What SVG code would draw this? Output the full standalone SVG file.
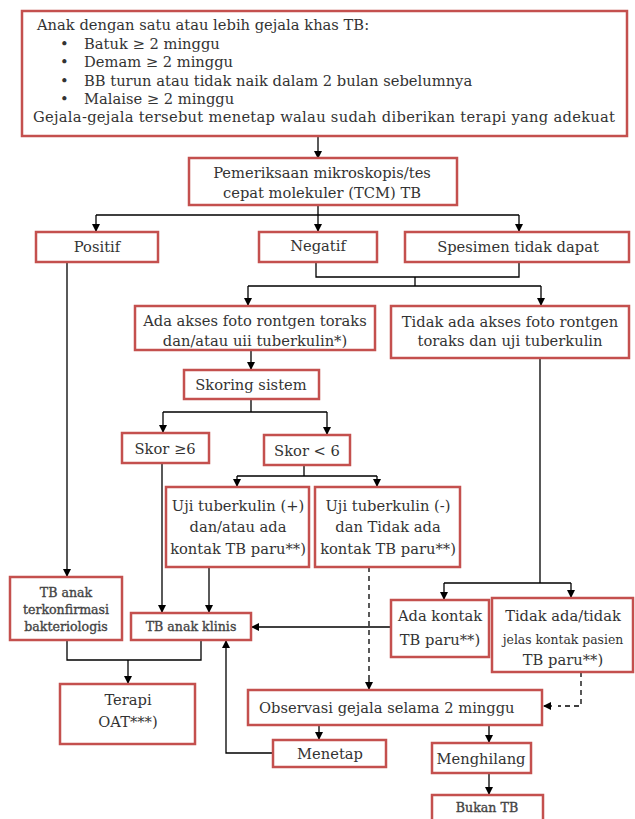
<svg xmlns="http://www.w3.org/2000/svg" width="635" height="819" viewBox="0 0 635 819">
<defs>
<marker id="ah" markerWidth="8" markerHeight="8" refX="7" refY="4" orient="auto" markerUnits="userSpaceOnUse">
<path d="M0,0 L8,4 L0,8 Z" fill="#000"/>
</marker>
<style>
.box{fill:#fff;stroke:#c4504e;stroke-width:2.5}
.t{font-family:"DejaVu Serif","Liberation Serif",serif;font-size:14.7px;fill:#333}
.c{text-anchor:middle}
.s{font-size:12.6px;fill:#444;stroke:#444;stroke-width:0.35}
.ln{fill:none;stroke:#000;stroke-width:1.3}
.ar{fill:none;stroke:#000;stroke-width:1.3;marker-end:url(#ah)}
.da{fill:none;stroke:#000;stroke-width:1.3;stroke-dasharray:5,4}
</style>
</defs>
<rect width="635" height="819" fill="#fff"/>

<g id="connectors">
<path class="ar" d="M318,136 V158"/>
<path class="ln" d="M318,205 V215 M96,215 H519"/>
<path class="ar" d="M96,215 V231"/>
<path class="ar" d="M318,215 V231"/>
<path class="ar" d="M519,215 V231"/>
<path class="ln" d="M316,262 V277 H519 V262 M415,277 V286 M248,286 H541"/>
<path class="ar" d="M248,286 V305"/>
<path class="ar" d="M541,286 V305"/>
<path class="ar" d="M251,350 V369"/>
<path class="ln" d="M251,399 V412 M163,412 H327"/>
<path class="ar" d="M163,412 V432"/>
<path class="ar" d="M327,412 V434"/>
<path class="ln" d="M304,465 V476 M237,476 H377"/>
<path class="ar" d="M237,476 V486"/>
<path class="ar" d="M377,476 V486"/>
<path class="ar" d="M67,262 V576"/>
<path class="ar" d="M162,463 V612"/>
<path class="ar" d="M209,567 V612"/>
<path class="da" d="M369,567 V682"/>
<path class="ar" d="M369,680 V689"/>
<path class="ln" d="M540,358 V583 M444,583 H571"/>
<path class="ar" d="M444,583 V599"/>
<path class="ar" d="M571,583 V597"/>
<path class="ar" d="M391,627 H252"/>
<path class="ln" d="M67,640 V660 H201 V640"/>
<path class="ar" d="M128,660 V683"/>
<path class="da" d="M581,672 V706 H558"/>
<path class="ar" d="M552,706 H544"/>
<path class="ar" d="M319,725 V739"/>
<path class="ar" d="M489,725 V742"/>
<path class="ar" d="M273,753 H226 V641"/>
<path class="ar" d="M489,773 V794"/>
</g>

<g id="n_top">
<rect class="box" x="22" y="11" width="605" height="125"/>
<text class="t" x="37" y="30">Anak dengan satu atau lebih gejala khas TB:</text>
<text class="t" x="60" y="49">•</text><text class="t" x="84" y="49">Batuk ≥ 2 minggu</text>
<text class="t" x="60" y="67">•</text><text class="t" x="84" y="67">Demam ≥ 2 minggu</text>
<text class="t" x="60" y="86">•</text><text class="t" x="84" y="86">BB turun atau tidak naik dalam 2 bulan sebelumnya</text>
<text class="t" x="60" y="104">•</text><text class="t" x="84" y="104">Malaise ≥ 2 minggu</text>
<text class="t" x="33" y="122" textLength="582" lengthAdjust="spacing">Gejala-gejala tersebut menetap walau sudah diberikan terapi yang adekuat</text>
</g>

<g id="n_pemeriksaan">
<rect class="box" x="189" y="158" width="268" height="47"/>
<text class="t c" x="322" y="178">Pemeriksaan mikroskopis/tes</text>
<text class="t c" x="322" y="198">cepat molekuler (TCM) TB</text>
</g>

<g id="n_positif">
<rect class="box" x="36" y="232" width="122" height="30"/>
<text class="t c" x="97" y="252">Positif</text>
</g>
<g id="n_negatif">
<rect class="box" x="259" y="232" width="118" height="30"/>
<text class="t c" x="318" y="251">Negatif</text>
</g>
<g id="n_spesimen">
<rect class="box" x="405" y="232" width="224" height="30"/>
<text class="t c" x="518" y="252">Spesimen tidak dapat</text>
</g>

<g id="n_ada_akses">
<rect class="box" x="135" y="306" width="240" height="44"/>
<text class="t c" x="255" y="326">Ada akses foto rontgen toraks</text>
<text class="t c" x="255" y="346">dan/atau uii tuberkulin*)</text>
</g>
<g id="n_tidak_akses">
<rect class="box" x="391" y="306" width="238" height="52"/>
<text class="t c" x="510" y="327">Tidak ada akses foto rontgen</text>
<text class="t c" x="510" y="346">toraks dan uji tuberkulin</text>
</g>

<g id="n_skoring">
<rect class="box" x="184" y="370" width="135" height="29"/>
<text class="t c" x="251" y="390">Skoring sistem</text>
</g>
<g id="n_skor6">
<rect class="box" x="122" y="433" width="87" height="30"/>
<text class="t c" x="165" y="454">Skor ≥6</text>
</g>
<g id="n_skorlt6">
<rect class="box" x="264" y="435" width="86" height="30"/>
<text class="t c" x="307" y="456">Skor &lt; 6</text>
</g>

<g id="n_uji_pos">
<rect class="box" x="166" y="487" width="143" height="80"/>
<text class="t c" x="238" y="511">Uji tuberkulin (+)</text>
<text class="t c" x="238" y="532">dan/atau ada</text>
<text class="t c" x="238" y="554">kontak TB paru**)</text>
</g>
<g id="n_uji_neg">
<rect class="box" x="315" y="487" width="145" height="80"/>
<text class="t c" x="388" y="511">Uji tuberkulin (-)</text>
<text class="t c" x="388" y="532">dan Tidak ada</text>
<text class="t c" x="388" y="554">kontak TB paru**)</text>
</g>

<g id="n_terkonfirmasi">
<rect class="box" x="10" y="577" width="112" height="63"/>
<text class="t c s" x="66" y="597">TB anak</text>
<text class="t c s" x="66" y="614">terkonfirmasi</text>
<text class="t c s" x="66" y="631">bakteriologis</text>
</g>
<g id="n_klinis">
<rect class="box" x="131" y="613" width="120" height="27"/>
<text class="t c s" x="191" y="631">TB anak klinis</text>
</g>

<g id="n_ada_kontak">
<rect class="box" x="391" y="600" width="98" height="57"/>
<text class="t c" x="440" y="621">Ada kontak</text>
<text class="t c" x="440" y="645">TB  paru**)</text>
</g>
<g id="n_tidak_kontak">
<rect class="box" x="492" y="598" width="141" height="74"/>
<text class="t c" x="563" y="621">Tidak ada/tidak</text>
<text class="t c" x="563" y="644" style="font-size:12.4px">jelas kontak pasien</text>
<text class="t c" x="563" y="665">TB paru**)</text>
</g>

<g id="n_terapi">
<rect class="box" x="60" y="684" width="135" height="60"/>
<text class="t c" x="128" y="705">Terapi</text>
<text class="t c" x="128" y="727">OAT***)</text>
</g>

<g id="n_observasi">
<rect class="box" x="248" y="690" width="294" height="35"/>
<text class="t" x="259" y="713">Observasi gejala selama 2 minggu</text>
</g>

<g id="n_menetap">
<rect class="box" x="273" y="740" width="113" height="27"/>
<text class="t c" x="330" y="759">Menetap</text>
</g>
<g id="n_menghilang">
<rect class="box" x="432" y="743" width="99" height="30"/>
<text class="t c" x="481" y="764">Menghilang</text>
</g>
<g id="n_bukan">
<rect class="box" x="432" y="795" width="111" height="30"/>
<text class="t c s" x="487" y="812">Bukan TB</text>
</g>
</svg>
